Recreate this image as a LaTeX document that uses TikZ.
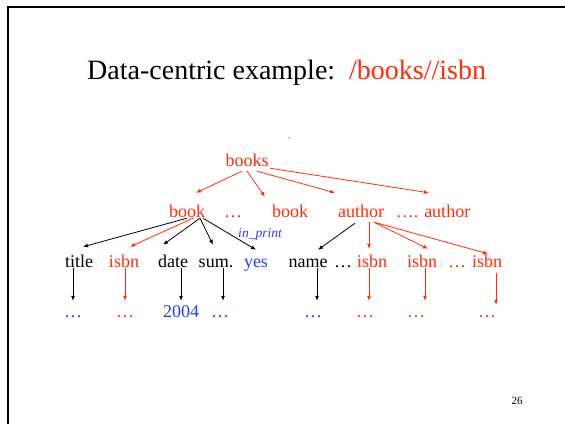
\documentclass[tikz,border=0pt]{standalone}
\usepackage{fontspec}
\setmainfont{Liberation Serif}
\usepackage{tikz}
\usetikzlibrary{arrows.meta,positioning,calc}

\definecolor{xred}{RGB}{255,45,10}
\definecolor{xblue}{RGB}{40,60,250}

\begin{document}
\begin{tikzpicture}[x=1pt, y=-1pt,
    every node/.style={inner sep=0pt, anchor=base, font=\fontsize{18}{20}\selectfont},
    top/.style={text height=12pt, text depth=5pt},
    lvlone/.style={text height=24pt, text depth=1pt},
    lvltwo/.style={text height=20pt, text depth=1pt},
    leaf/.style={text height=16pt, text depth=1pt},
    arr/.style={line width=0.8pt, -{Latex[length=5pt, width=4pt]}}]
  \useasboundingbox (0,0) rectangle (565,424);
  \draw[line width=2.2pt] (8,424) -- (8,7) -- (565,7);

  \node[anchor=base west, font=\fontsize{28}{30}\selectfont] at (87,79) (head)
    {Data-centric example:\ \ \textcolor{xred}{/books//isbn}};
  \fill (289,138) circle (0.6pt);

  \node[top, xred] at (247,166) (books) {books};

  \node[lvlone, xred] at (187,217) (book) {book};
  \node[lvlone, xred] at (233,217) (bdots) {…};
  \node[lvlone, xred] at (290,217) (bookb) {book};
  \node[lvlone, xred] at (361,217) (author) {author};
  \node[lvlone, xred] at (433,217) (authorb) {…. author};

  \node[anchor=center, xblue, font=\fontsize{13.5}{15}\selectfont\itshape] at (260,234) (inprint) {in\_print};

  \node[lvltwo] at (79,267) (title) {title};
  \node[lvltwo, xred] at (124,267) (isbn) {isbn};
  \node[lvltwo] at (173,267) (date) {date};
  \node[lvltwo] at (216,267) (sum) {sum.};
  \node[lvltwo, xblue] at (256,267) (yes) {yes};
  \node[lvltwo] at (308,267) (name) {name};
  \node[lvltwo] at (343,267) (ndots) {…};
  \node[lvltwo, xred] at (372,267) (isbna) {isbn};
  \node[lvltwo, xred] at (422,267) (isbnb) {isbn};
  \node[lvltwo, xred] at (457,267) (idots) {…};
  \node[lvltwo, xred] at (487,267) (isbnc) {isbn};

  \node[leaf, xblue] at (73,317) (tdots) {…};
  \node[leaf, xred] at (125,317) (sdots) {…};
  \node[leaf, xblue] at (181,317) (year) {2004};
  \node[leaf, xblue] at (220,317) (mdots) {…};
  \node[leaf, xblue] at (313,317) (nmdots) {…};
  \node[leaf, xred] at (365,317) (adots) {…};
  \node[leaf, xred] at (416,317) (cdots) {…};
  \node[leaf, xred] at (487,317) (edots) {…};

  \draw[arr, xred] ([xshift=-5pt]books.south) -- ([xshift=9pt]book.north);
  \draw[arr, xred] (books.south) -- ([xshift=-25pt, yshift=-4pt]bookb.north);
  \draw[arr, xred] ([xshift=10pt]books.south) -- ([xshift=-26pt]author.north);
  \draw[arr, xred] ([xshift=23pt, yshift=3pt]books.south) -- ([xshift=-4pt]authorb.north);

  \draw[arr] (book.south) -- ([xshift=4pt]title.north);
  \draw[arr, xred] ([xshift=6pt]book.south) -- ([xshift=6pt]isbn.north);
  \draw[arr] ([xshift=13pt]book.south) -- ([xshift=-10pt, yshift=2pt]date.north);
  \draw[arr] ([xshift=13pt]book.south) -- ([xshift=-3pt, yshift=2pt]sum.north);
  \draw[arr] ([xshift=16pt]book.south) -- ([yshift=-3pt]yes.north);

  \draw[arr] ([xshift=-6pt, yshift=-5pt]author.south) -- ([xshift=10pt, yshift=-3pt]name.north);
  \draw[arr, xred] ([xshift=8pt, yshift=-4pt]author.south) -- ([xshift=-3pt, yshift=-2pt]isbna.north);
  \draw[arr, xred] ([xshift=13pt, yshift=-4pt]author.south) -- ([xshift=6pt, yshift=-2pt]isbnb.north);
  \draw[arr, xred] ([xshift=13pt, yshift=-4pt]author.south) -- ([xshift=1pt, yshift=-7pt]isbnc.north);

  % leaves
  \draw[arr] (tdots.north |- title.south) -- (tdots.north);
  \draw[arr, xred] (sdots.north |- isbn.south) -- (sdots.north);
  \draw[arr] (year.north |- date.south) -- (year.north);
  \draw[arr] ([xshift=3pt]mdots.north |- sum.south) -- ([xshift=3pt]mdots.north);
  \draw[arr] ([xshift=4pt]nmdots.north |- name.south) -- ([xshift=4pt]nmdots.north);
  \draw[arr, xred] ([xshift=4pt]adots.north |- isbna.south) -- ([xshift=4pt]adots.north);
  \draw[arr, xred] ([xshift=9pt]cdots.north |- isbnb.south) -- ([xshift=9pt]cdots.north);
  \draw[arr, xred] ([xshift=9pt, yshift=-5pt]edots.north |- isbnc.south) -- ([xshift=9pt, yshift=-4pt]edots.north);

  \node[anchor=center, font=\fontsize{11}{12}\selectfont] at (517,401) (page) {26};
\end{tikzpicture}
\end{document}
